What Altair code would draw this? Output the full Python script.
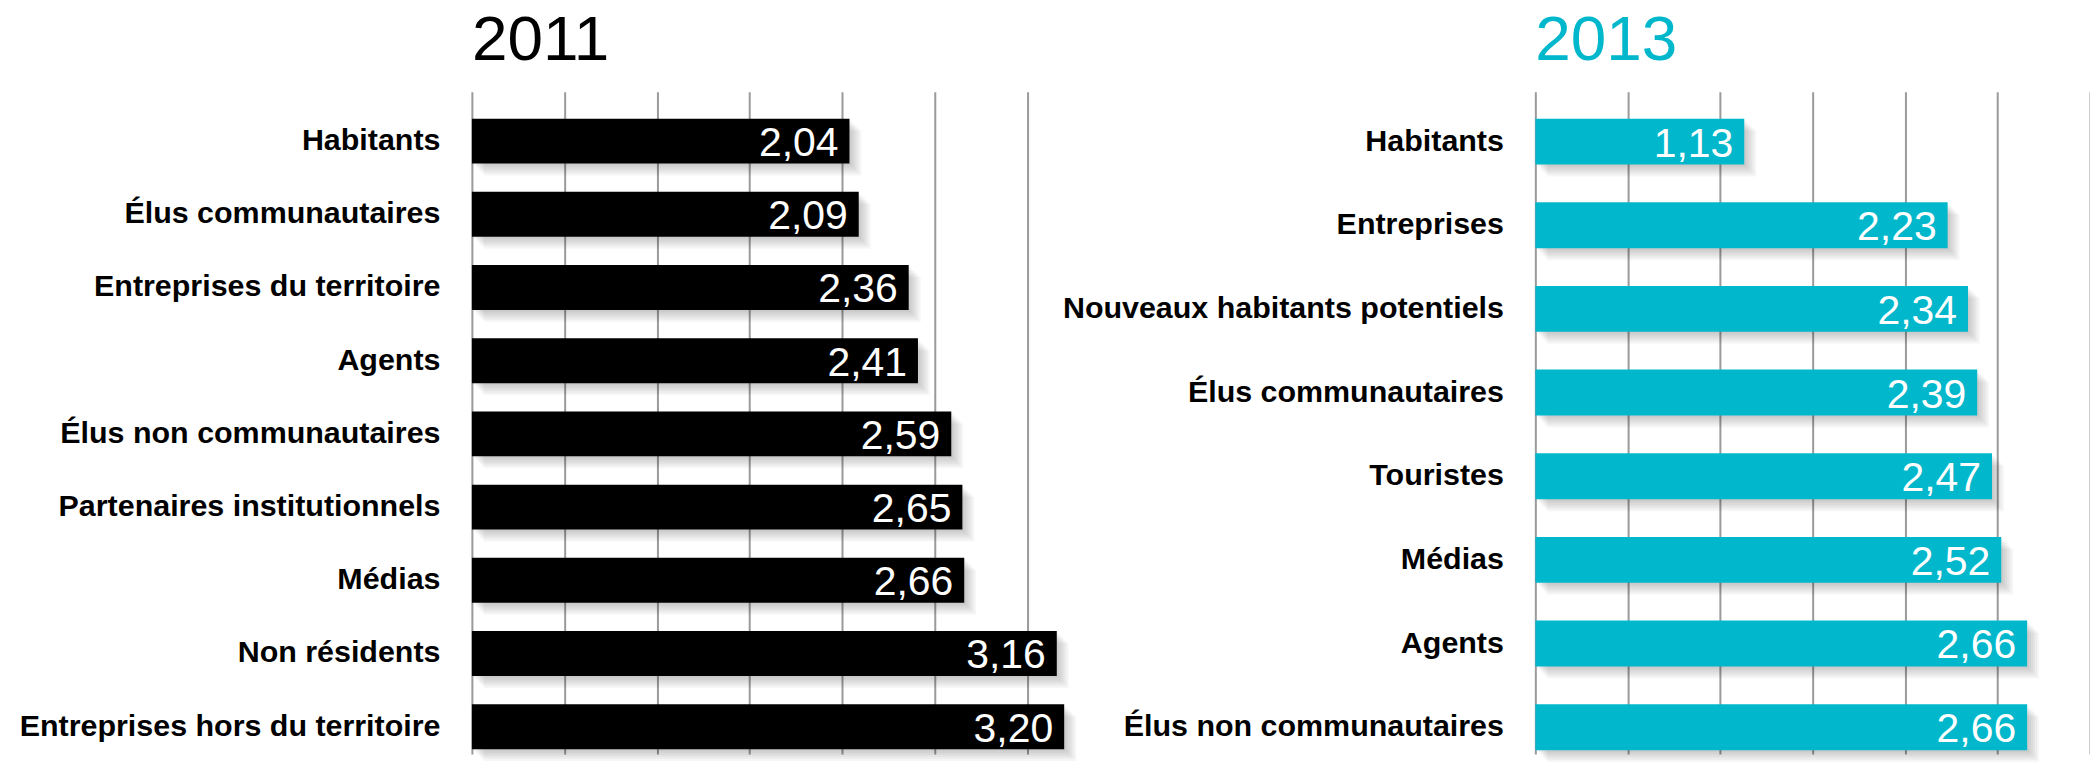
import altair as alt
import pandas as pd

left_cats = ["Habitants", "Élus communautaires", "Entreprises du territoire", "Agents",
             "Élus non communautaires", "Partenaires institutionnels", "Médias",
             "Non résidents", "Entreprises hors du territoire"]
left_vals = [2.04, 2.09, 2.36, 2.41, 2.59, 2.65, 2.66, 3.16, 3.20]

right_cats = ["Habitants", "Entreprises", "Nouveaux habitants potentiels", "Élus communautaires",
              "Touristes", "Médias", "Agents", "Élus non communautaires"]
right_vals = [1.13, 2.23, 2.34, 2.39, 2.47, 2.52, 2.66, 2.66]

grid_values = [0, 0.5, 1.0, 1.5, 2.0, 2.5, 3.0]

FONT = "Liberation Sans"
PX_PER_UNIT = 185.5
PLOT_H = 664


def frame(cats, vals):
    return pd.DataFrame({
        "cat": cats,
        "val": vals,
        "lab": [f"{v:.2f}".replace(".", ",") for v in vals],
    })


def panel(cats, vals, title, color, xmax, pad_inner, pad_outer, align):
    df = frame(cats, vals)
    width = round(xmax * PX_PER_UNIT)
    xs = alt.Scale(domain=[0, xmax], nice=False, zero=True)
    ys = alt.Scale(domain=cats, paddingInner=pad_inner, paddingOuter=pad_outer,
                   align=align, round=False)
    x_axis = alt.Axis(values=grid_values, grid=True, gridColor="#9a9a9a", gridWidth=2,
                      labels=False, ticks=False, domain=False, title=None,
                      minExtent=0, maxExtent=0)
    y_axis = alt.Axis(title=None, ticks=False, domain=False, labelFont=FONT,
                      labelFontSize=30.5, labelFontWeight="bold", labelColor="black",
                      labelPadding=32, labelLimit=0)
    base = alt.Chart(df)
    enc = dict(x=alt.X("val:Q", scale=xs, axis=x_axis),
               y=alt.Y("cat:N", scale=ys, axis=y_axis, sort=cats))
    layers = []
    for k in [2, 4, 6, 8, 10, 12]:
        layers.append(
            base.mark_bar(color="black", opacity=0.035, xOffset=k, x2Offset=k, yOffset=k)
            .encode(**enc)
        )
    bars = base.mark_bar(color=color).encode(**enc)
    text = base.mark_text(align="right", baseline="middle", dx=-11, dy=3, color="white",
                          font=FONT, fontSize=41).encode(text="lab:N", **enc)
    return alt.layer(*layers, bars, text).properties(
        width=width, height=PLOT_H,
        title=alt.TitleParams(title, anchor="start", frame="group", fontSize=64,
                              font=FONT, fontWeight="normal", color=color,
                              baseline="alphabetic", offset=-32),
    )


left = panel(left_cats, left_vals, "2011", "#000000", 3.25, 0.3867, 0.218, 0.844)
right = panel(right_cats, right_vals, "2013", "#00b7cb", 3.0, 0.4514, 0.1848, 0.871)

chart = alt.hconcat(left, right, spacing=463, bounds="flush").properties(
    padding={"left": 10, "top": 0, "right": 0, "bottom": 0},
    background="white",
).configure_view(stroke="transparent", strokeWidth=0)

chart.save("out.html", embed_options={"renderer": "svg", "actions": False})
